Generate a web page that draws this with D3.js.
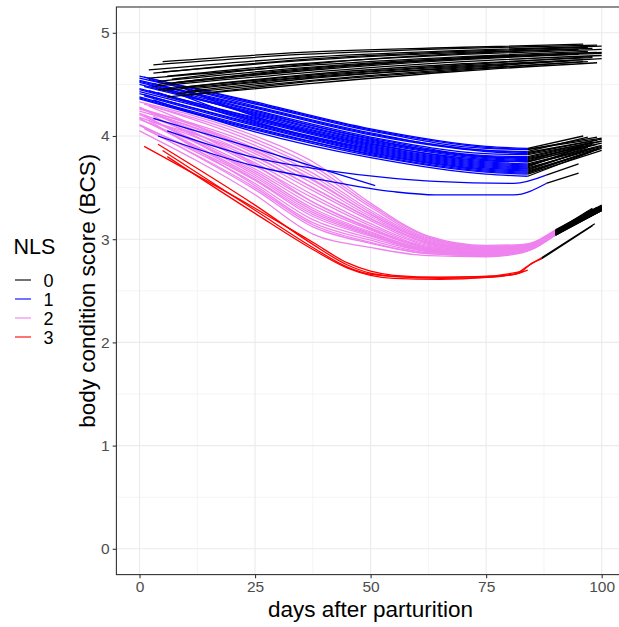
<!DOCTYPE html>
<html>
<head>
<meta charset="utf-8">
<script src="https://cdn.jsdelivr.net/npm/d3@7"></script>
<style>
  body { margin: 0; background: #fff; }
  text { font-family: "Liberation Sans", Arial, sans-serif; }
</style>
</head>
<body>
<svg width="619" height="627"></svg>
<script>
// each cow = list of [day, BCS, NLS]; a segment takes the NLS of its first point
var nlsLevels = ["0", "1", "2", "3"];
var xTicks = [0, 25, 50, 75, 100];
var yTicks = [0, 1, 2, 3, 4, 5];

var cowsNLS0 = [
  [[5,4.72,0],[35,4.81,0],[70,4.86,0],[96,4.89,0]],
  [[2,4.64,0],[35,4.76,0],[70,4.83,0],[100,4.87,0]],
  [[3,4.61,0],[35,4.73,0],[70,4.81,0],[98,4.85,0]],
  [[6,4.58,0],[35,4.70,0],[70,4.79,0],[100,4.84,0]],
  [[2,4.56,0],[35,4.68,0],[70,4.77,0],[97,4.82,0]],
  [[4,4.53,0],[35,4.66,0],[70,4.76,0],[99,4.81,0]],
  [[7,4.51,0],[35,4.63,0],[70,4.74,0],[95,4.79,0]],
  [[3,4.48,0],[35,4.61,0],[70,4.72,0],[100,4.78,0]],
  [[9,4.47,0],[35,4.59,0],[70,4.70,0],[98,4.76,0]],
  [[5,4.44,0],[35,4.57,0],[70,4.68,0],[96,4.74,0]],
  [[10,4.43,0],[35,4.55,0],[70,4.67,0],[100,4.75,0]],
  [[8,4.41,0],[35,4.53,0],[70,4.65,0],[97,4.72,0]],
  [[6,4.38,0],[35,4.50,0],[70,4.63,0],[99,4.71,0]],
  [[12,4.46,0],[35,4.56,0],[70,4.66,0],[94,4.73,0]],
  [[4,4.50,0],[35,4.64,0],[70,4.75,0],[100,4.80,0]],
  [[7,4.55,0],[35,4.69,0],[70,4.80,0],[95,4.84,0]],
  [[3,4.69,0],[35,4.79,0],[70,4.85,0],[99,4.88,0]],
  [[5,4.62,0],[35,4.74,0],[70,4.82,0],[97,4.86,0]],
  [[8,4.52,0],[35,4.65,0],[70,4.75,0],[100,4.81,0]],
  [[4,4.45,0],[35,4.58,0],[70,4.69,0],[98,4.77,0]],
  [[11,4.40,0],[35,4.52,0],[70,4.64,0],[96,4.72,0]]
];

var cowsNLS1 = [
  [[0,4.58,1],[25,4.33,1],[50,4.07,1],[75,3.90,1],[84,3.88,0],[96,4.00,0]],
  [[0,4.56,1],[25,4.31,1],[50,4.05,1],[75,3.88,1],[84,3.87,0],[100,3.98,0]],
  [[2,4.55,1],[25,4.29,1],[50,4.03,1],[75,3.86,1],[84,3.85,0],[97,3.99,0]],
  [[0,4.53,1],[25,4.27,1],[50,4.01,1],[75,3.85,1],[84,3.83,0],[99,3.96,0]],
  [[3,4.51,1],[25,4.25,1],[50,3.99,1],[75,3.83,1],[84,3.82,0],[100,3.95,0]],
  [[0,4.50,1],[25,4.23,1],[50,3.98,1],[75,3.81,1],[84,3.80,0],[98,3.94,0]],
  [[1,4.48,1],[25,4.22,1],[50,3.96,1],[75,3.80,1],[84,3.78,0],[100,3.93,0]],
  [[5,4.47,1],[25,4.20,1],[50,3.94,1],[75,3.78,1],[84,3.76,0],[96,3.91,0]],
  [[0,4.46,1],[25,4.18,1],[50,3.93,1],[75,3.76,1],[84,3.75,0],[99,3.92,0]],
  [[2,4.44,1],[25,4.17,1],[50,3.91,1],[75,3.75,1],[84,3.73,0],[100,3.91,0]],
  [[0,4.43,1],[25,4.15,1],[50,3.89,1],[75,3.73,1],[84,3.71,0],[97,3.89,0]],
  [[4,4.42,1],[25,4.13,1],[50,3.87,1],[75,3.71,1],[84,3.69,0],[100,3.89,0]],
  [[0,4.41,1],[25,4.12,1],[50,3.86,1],[75,3.70,1],[84,3.68,0],[98,3.88,0]],
  [[1,4.39,1],[25,4.10,1],[50,3.84,1],[75,3.68,1],[84,3.66,0],[100,3.88,0]],
  [[0,4.38,1],[25,4.08,1],[50,3.82,1],[75,3.66,1],[84,3.64,0],[99,3.87,0]],
  [[6,4.45,1],[25,4.14,1],[50,3.88,1],[75,3.72,1],[84,3.70,0],[95,3.88,0]],
  [[0,4.36,1],[25,4.06,1],[50,3.81,1],[75,3.65,1],[84,3.63,0],[100,3.86,0]],
  [[3,4.35,1],[25,4.04,1],[50,3.79,1],[75,3.63,1],[84,3.61,0],[98,3.85,0]],
  [[8,4.49,1],[25,4.19,1],[50,3.92,1],[75,3.77,1],[84,3.75,0],[97,3.90,0]],
  [[0,4.52,1],[25,4.24,1],[50,3.97,1],[75,3.80,1],[84,3.79,0],[100,3.95,0]],
  [[1,4.57,1],[25,4.32,1],[50,4.06,1],[75,3.89,1],[84,3.87,0],[99,3.99,0]],
  [[0,4.54,1],[25,4.28,1],[50,4.02,1],[75,3.86,1],[84,3.84,0],[100,3.97,0]],
  [[2,4.49,1],[25,4.21,1],[50,3.95,1],[75,3.79,1],[84,3.77,0],[98,3.92,0]],
  [[0,4.45,1],[25,4.16,1],[50,3.90,1],[75,3.74,1],[84,3.72,0],[100,3.90,0]],
  [[1,4.40,1],[25,4.11,1],[50,3.85,1],[75,3.69,1],[84,3.67,0],[97,3.87,0]],
  [[0,4.37,1],[25,4.07,1],[50,3.83,1],[75,3.67,1],[84,3.65,0],[99,3.87,0]],
  [[3,4.17,1],[25,3.88,1],[51,3.52,1]],
  [[6,4.05,1],[25,3.79,1],[40,3.67,1],[55,3.59,1],[64,3.56,1],[81,3.54,1],[88,3.62,0],[95,3.73,0]],
  [[4,4.00,1],[24,3.72,1],[40,3.57,1],[55,3.46,1],[64,3.43,1],[81,3.43,1],[88,3.54,0],[95,3.64,0]]
];

var cowsNLS2 = [
  [[0,4.33,2],[25,4.00,2],[37.5,3.75,2],[50,3.35,2],[62.5,3.03,2],[75,2.94,2],[83,2.95,2],[90,3.09,0],[100,3.33,0]],
  [[2,4.30,2],[25,3.94,2],[37.5,3.68,2],[50,3.31,2],[62.5,3.01,2],[75,2.93,2],[83,2.94,2],[90,3.08,0],[99,3.31,0]],
  [[0,4.27,2],[25,3.88,2],[37.5,3.61,2],[50,3.26,2],[62.5,2.99,2],[75,2.92,2],[83,2.93,2],[90,3.08,0],[100,3.32,0]],
  [[1,4.25,2],[25,3.83,2],[37.5,3.54,2],[50,3.22,2],[62.5,2.97,2],[75,2.91,2],[83,2.93,2],[90,3.07,0],[98,3.29,0]],
  [[0,4.22,2],[25,3.77,2],[37.5,3.47,2],[50,3.18,2],[62.5,2.95,2],[75,2.90,2],[83,2.92,2],[90,3.07,0],[100,3.31,0]],
  [[3,4.19,2],[25,3.71,2],[37.5,3.40,2],[50,3.13,2],[62.5,2.93,2],[75,2.89,2],[83,2.91,2],[90,3.06,0],[99,3.29,0]],
  [[0,4.16,2],[25,3.66,2],[37.5,3.33,2],[50,3.09,2],[62.5,2.91,2],[75,2.87,2],[83,2.90,2],[90,3.06,0],[100,3.30,0]],
  [[2,4.13,2],[25,3.60,2],[37.5,3.26,2],[50,3.05,2],[62.5,2.89,2],[75,2.86,2],[83,2.89,2],[90,3.05,0],[97,3.26,0]],
  [[0,4.11,2],[25,3.54,2],[37.5,3.19,2],[50,3.01,2],[62.5,2.88,2],[75,2.85,2],[83,2.88,2],[90,3.05,0],[100,3.29,0]],
  [[1,4.08,2],[25,3.48,2],[37.5,3.12,2],[50,2.96,2],[62.5,2.86,2],[75,2.84,2],[83,2.88,2],[90,3.04,0],[99,3.27,0]],
  [[0,4.05,2],[25,3.43,2],[37.5,3.05,2],[50,2.92,2],[62.5,2.84,2],[75,2.83,2],[83,2.87,2],[90,3.04,0],[100,3.28,0]],
  [[0,4.28,2],[25,3.72,2],[37.5,3.36,2],[50,3.10,2],[62.5,2.92,2],[75,2.88,2],[83,2.90,2],[90,3.06,0],[100,3.30,0]],
  [[4,4.12,2],[25,3.80,2],[37.5,3.50,2],[50,3.20,2],[62.5,2.96,2],[75,2.90,2],[83,2.92,2],[90,3.07,0],[98,3.28,0]],
  [[1,4.20,2],[25,3.62,2],[37.5,3.28,2],[50,3.06,2],[62.5,2.90,2],[75,2.86,2],[83,2.89,2],[90,3.05,0],[100,3.29,0]],
  [[0,4.24,2],[25,3.86,2],[37.5,3.57,2],[50,3.24,2],[62.5,2.98,2],[75,2.91,2],[83,2.93,2],[90,3.07,0],[99,3.30,0]],
  [[2,4.15,2],[25,3.52,2],[37.5,3.16,2],[50,2.99,2],[62.5,2.87,2],[75,2.85,2],[83,2.88,2],[90,3.05,0],[100,3.28,0]],
  [[1,4.31,2],[25,3.97,2],[37.5,3.71,2],[50,3.33,2],[62.5,3.02,2],[75,2.93,2],[83,2.94,2],[90,3.08,0],[100,3.32,0]],
  [[0,4.26,2],[25,3.91,2],[37.5,3.64,2],[50,3.28,2],[62.5,3.00,2],[75,2.92,2],[83,2.94,2],[90,3.08,0],[98,3.30,0]],
  [[2,4.23,2],[25,3.80,2],[37.5,3.50,2],[50,3.20,2],[62.5,2.96,2],[75,2.90,2],[83,2.92,2],[90,3.07,0],[100,3.31,0]],
  [[0,4.18,2],[25,3.74,2],[37.5,3.43,2],[50,3.15,2],[62.5,2.94,2],[75,2.89,2],[83,2.91,2],[90,3.06,0],[99,3.30,0]],
  [[3,4.14,2],[25,3.68,2],[37.5,3.36,2],[50,3.11,2],[62.5,2.92,2],[75,2.88,2],[83,2.90,2],[90,3.06,0],[100,3.29,0]],
  [[0,4.10,2],[25,3.57,2],[37.5,3.22,2],[50,3.03,2],[62.5,2.88,2],[75,2.85,2],[83,2.88,2],[90,3.05,0],[97,3.27,0]],
  [[1,4.07,2],[25,3.50,2],[37.5,3.14,2],[50,2.97,2],[62.5,2.86,2],[75,2.84,2],[83,2.88,2],[90,3.04,0],[100,3.28,0]],
  [[0,4.21,2],[25,3.64,2],[37.5,3.30,2],[50,3.07,2],[62.5,2.90,2],[75,2.87,2],[83,2.90,2],[90,3.05,0],[99,3.29,0]],
  [[2,4.29,2],[25,3.85,2],[37.5,3.58,2],[50,3.24,2],[62.5,2.98,2],[75,2.91,2],[83,2.93,2],[90,3.07,0],[100,3.31,0]],
  [[0,4.17,2],[25,3.58,2],[37.5,3.24,2],[50,3.04,2],[62.5,2.89,2],[75,2.86,2],[83,2.89,2],[90,3.05,0],[100,3.28,0]]
];

var cowsNLS3 = [
  [[1,3.90,3],[25,3.30,3],[37.5,2.97,3],[45,2.77,3],[50,2.69,3],[55,2.65,3],[65,2.63,3],[75,2.64,3],[81,2.66,3],[84,2.74,3],[87,2.82,0],[98.5,3.15,0]],
  [[4,3.92,3],[25,3.33,3],[37.5,2.95,3],[45,2.75,3],[50,2.67,3],[55,2.64,3],[65,2.62,3],[75,2.63,3],[82,2.67,3],[84,2.70,3]],
  [[6,3.80,3],[25,3.25,3],[37.5,2.90,3],[45,2.72,3],[50,2.65,3],[55,2.62,3],[65,2.61,3],[75,2.63,3],[82,2.67,3],[85,2.77,3],[87,2.81,0],[98,3.13,0]],
  [[5,3.86,3],[25,3.28,3],[37.5,2.92,3],[45,2.73,3],[50,2.66,3],[60,2.63,3],[75,2.64,3],[83,2.69,3]]
];

var colour = d3.scaleOrdinal().domain([0, 1, 2, 3]).range(["#000000", "#0000FF", "#EE82EE", "#FF0000"]);

var svg = d3.select("svg");
var panelLeft = 116.4, panelRight = 624.8, panelTop = 7, panelBottom = 574.6;

var x = d3.scaleLinear().domain([-5, 105]).range([panelLeft, panelRight]);
var y = d3.scaleLinear().domain([-0.25, 5.25]).range([panelBottom, panelTop]);

// grid
var grid = svg.append("g");
grid.selectAll(".minx").data([12.5, 37.5, 62.5, 87.5]).enter().append("line")
  .attr("x1", d => x(d)).attr("x2", d => x(d)).attr("y1", panelTop).attr("y2", panelBottom)
  .attr("stroke", "#EBEBEB").attr("stroke-width", 0.55);
grid.selectAll(".miny").data([0.5, 1.5, 2.5, 3.5, 4.5]).enter().append("line")
  .attr("y1", d => y(d)).attr("y2", d => y(d)).attr("x1", panelLeft).attr("x2", panelRight)
  .attr("stroke", "#EBEBEB").attr("stroke-width", 0.55);
grid.selectAll(".majx").data(xTicks).enter().append("line")
  .attr("x1", d => x(d)).attr("x2", d => x(d)).attr("y1", panelTop).attr("y2", panelBottom)
  .attr("stroke", "#EBEBEB").attr("stroke-width", 1.1);
grid.selectAll(".majy").data(yTicks).enter().append("line")
  .attr("y1", d => y(d)).attr("y2", d => y(d)).attr("x1", panelLeft).attr("x2", panelRight)
  .attr("stroke", "#EBEBEB").attr("stroke-width", 1.1);

// split each cow into runs of equal NLS
function runs(pts) {
  var out = [], cur = null;
  for (var i = 0; i < pts.length - 1; i++) {
    var c = pts[i][2];
    if (!cur || cur.nls !== c) { cur = { nls: c, pts: [pts[i]] }; out.push(cur); }
    cur.pts.push(pts[i + 1]);
  }
  return out;
}

var allRuns = [];
[cowsNLS3, cowsNLS2, cowsNLS1, cowsNLS0].forEach(function(group) {
  group.forEach(function(cow) { allRuns = allRuns.concat(runs(cow)); });
});
// draw order: red, violet, blue, black
var order = { 3: 0, 2: 1, 1: 2, 0: 3 };
allRuns.sort(function(a, b) { return order[a.nls] - order[b.nls]; });

var line = d3.line().curve(d3.curveMonotoneX).x(d => x(d[0])).y(d => y(d[1]));

svg.append("g").selectAll("path").data(allRuns).enter().append("path")
  .attr("d", d => line(d.pts))
  .attr("fill", "none")
  .attr("stroke", d => colour(d.nls))
  .attr("stroke-width", 1.3)
  .attr("stroke-linejoin", "round");

// panel border
svg.append("rect")
  .attr("x", panelLeft).attr("y", panelTop)
  .attr("width", panelRight - panelLeft).attr("height", panelBottom - panelTop)
  .attr("fill", "none").attr("stroke", "#333333").attr("stroke-width", 1.1);

// axes
var xAxis = svg.append("g").attr("transform", "translate(0," + panelBottom + ")")
  .call(d3.axisBottom(x).tickValues(xTicks).tickFormat(d3.format("d")).tickSize(3.7).tickPadding(3));
var yAxis = svg.append("g").attr("transform", "translate(" + panelLeft + ",0)")
  .call(d3.axisLeft(y).tickValues(yTicks).tickFormat(d3.format("d")).tickSize(3.7).tickPadding(3));
[xAxis, yAxis].forEach(function(a) {
  a.attr("font-size", null).attr("font-family", null);
  a.select(".domain").remove();
  a.selectAll(".tick line").attr("stroke", "#333333").attr("stroke-width", 1.1);
  a.selectAll(".tick text").attr("fill", "#4D4D4D").style("font-size", "15.5px");
});

// axis titles
svg.append("text")
  .attr("x", (panelLeft + panelRight) / 2).attr("y", 617)
  .attr("text-anchor", "middle").style("font-size", "22.5px").attr("fill", "#000")
  .text("days after parturition");

svg.append("text")
  .attr("transform", "translate(95," + ((panelTop + panelBottom) / 2) + ") rotate(-90)")
  .attr("text-anchor", "middle").style("font-size", "22.5px").attr("fill", "#000")
  .text("body condition score (BCS)");

// legend
var legend = svg.append("g");
legend.append("text").attr("x", 13.5).attr("y", 253.5)
  .style("font-size", "21.5px").attr("fill", "#000").text("NLS");
var keyY = d3.scalePoint().domain(nlsLevels).range([280, 337]);
var item = legend.selectAll(".key").data(nlsLevels).enter().append("g");
item.append("line")
  .attr("x1", 15).attr("x2", 31)
  .attr("y1", d => keyY(d)).attr("y2", d => keyY(d))
  .attr("stroke", d => colour(+d)).attr("stroke-width", 1.1);
item.append("text")
  .attr("x", 43.5).attr("y", d => keyY(d) + 6.5)
  .style("font-size", "18px").attr("fill", "#000")
  .text(d => d);
</script>
</body>
</html>
